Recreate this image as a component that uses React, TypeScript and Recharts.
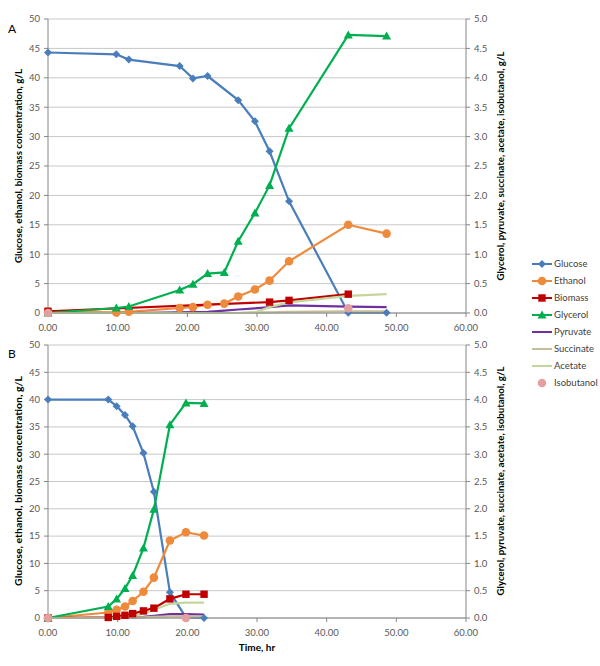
import React from 'react';
import { LineChart, Line, XAxis, YAxis, CartesianGrid } from 'recharts';

const FONT = 'Lato, "Open Sans", sans-serif';

// Panel A (time, hr)
const timeA = [0, 9.8, 11.6, 18.9, 20.8, 22.9, 25.3, 27.3, 29.7, 31.8, 34.6, 43.1, 48.6];
const glucoseA = [44.3, 44.0, 43.1, 42.0, 39.9, 40.3, null, 36.2, 32.6, 27.5, 19.0, 0.05, 0.05];
const ethanolA = [0.2, 0.1, 0.2, 0.85, 1.0, 1.4, 1.6, 2.8, 4.0, 5.5, 8.8, 15.0, 13.5];
const biomassA = [0.3, null, null, null, null, null, null, null, null, 1.85, 2.15, 3.2, null];
const glycerolA = [0.0, 0.085, 0.11, 0.39, 0.49, 0.67, 0.69, 1.22, 1.7, 2.17, 3.14, 4.73, 4.71];
const pyruvateA = [0, 0, 0, 0.01, 0.015, 0.02, 0.04, 0.06, 0.08, 0.1, 0.13, 0.11, 0.1];
const succinateA = [0, 0, 0, 0, 0, 0, 0, 0, 0.01, 0.01, 0.02, 0.03, 0.03];
const acetateA = [0, 0, 0, 0, 0, 0, 0, 0, 0.01, 0.1, 0.18, 0.29, 0.32];
const isobutanolA = [0, null, null, null, null, null, null, null, null, null, null, 0.08, null];

// Panel B
const timeB = [0, 8.65, 9.85, 11.05, 12.15, 13.7, 15.2, 17.5, 19.8, 22.4];
const glucoseB = [40, 40, 38.8, 37.2, 35.1, 30.2, 23.1, 4.7, 0.1, 0.0];
const ethanolB = [0, 1.0, 1.5, 2.1, 3.1, 4.8, 7.4, 14.2, 15.7, 15.1];
const biomassB = [0, 0.1, 0.3, 0.5, 0.8, 1.3, 1.8, 3.5, 4.35, 4.35];
const glycerolB = [0, 0.21, 0.35, 0.54, 0.78, 1.28, 1.99, 3.54, 3.94, 3.93];
const pyruvateB = [0, 0, 0, 0.01, 0.01, 0.02, 0.04, 0.07, 0.07, 0.06];
const succinateB = [0, 0, 0, 0, 0.01, 0.01, 0.02, 0.03, 0.03, 0.03];
const acetateB = [0, 0, 0, 0.01, 0.03, 0.08, 0.15, 0.26, 0.28, 0.28];
const isobutanolB = [0, null, null, null, null, null, null, null, 0.0, null];

const xTicks = [0, 10, 20, 30, 40, 50, 60];
const leftTicks = [0, 5, 10, 15, 20, 25, 30, 35, 40, 45, 50];
const rightTicks = [0, 0.5, 1, 1.5, 2, 2.5, 3, 3.5, 4, 4.5, 5];

type Shape = 'diamond' | 'circle' | 'square' | 'triangle' | 'none';

const series: { key: string; name: string; color: string; shape: Shape; axis: string; line: boolean }[] = [
  { key: 'glucose', name: 'Glucose', color: '#4a7ebb', shape: 'diamond', axis: 'left', line: true },
  { key: 'ethanol', name: 'Ethanol', color: '#ee8a3c', shape: 'circle', axis: 'left', line: true },
  { key: 'biomass', name: 'Biomass', color: '#c00000', shape: 'square', axis: 'left', line: true },
  { key: 'glycerol', name: 'Glycerol', color: '#00b050', shape: 'triangle', axis: 'right', line: true },
  { key: 'pyruvate', name: 'Pyruvate', color: '#7030a0', shape: 'none', axis: 'right', line: true },
  { key: 'succinate', name: 'Succinate', color: '#c4bd97', shape: 'none', axis: 'right', line: true },
  { key: 'acetate', name: 'Acetate', color: '#c3d69b', shape: 'none', axis: 'right', line: true },
  { key: 'isobutanol', name: 'Isobutanol', color: '#e3a0a0', shape: 'circle', axis: 'right', line: false },
];

function buildRows(time: number[], cols: Record<string, (number | null)[]>) {
  return time.map((t, i) => {
    const row: Record<string, number | null> = { t };
    Object.keys(cols).forEach((k) => (row[k] = cols[k][i]));
    return row;
  });
}

const dataA = buildRows(timeA, {
  glucose: glucoseA, ethanol: ethanolA, biomass: biomassA, glycerol: glycerolA,
  pyruvate: pyruvateA, succinate: succinateA, acetate: acetateA, isobutanol: isobutanolA,
});
const dataB = buildRows(timeB, {
  glucose: glucoseB, ethanol: ethanolB, biomass: biomassB, glycerol: glycerolB,
  pyruvate: pyruvateB, succinate: succinateB, acetate: acetateB, isobutanol: isobutanolB,
});

function Marker({ shape, color, cx, cy }: { shape: Shape; color: string; cx: number; cy: number }) {
  if (shape === 'diamond')
    return <polygon points={`${cx},${cy - 4} ${cx + 4},${cy} ${cx},${cy + 4} ${cx - 4},${cy}`} fill={color} />;
  if (shape === 'circle') return <circle cx={cx} cy={cy} r={4.3} fill={color} />;
  if (shape === 'square') return <rect x={cx - 3.7} y={cy - 3.7} width={7.4} height={7.4} fill={color} />;
  if (shape === 'triangle')
    return <polygon points={`${cx},${cy - 4.5} ${cx + 4.5},${cy + 3.5} ${cx - 4.5},${cy + 3.5}`} fill={color} />;
  return null;
}

const makeDot = (shape: Shape, color: string) => (p: any) => {
  const { cx, cy, index, value } = p;
  if (shape === 'none' || cx == null || cy == null || value == null || Number.isNaN(cy))
    return <g key={`d-${index}`} />;
  return (
    <g key={`d-${index}`}>
      <Marker shape={shape} color={color} cx={cx} cy={cy} />
    </g>
  );
};

const vTitle = (text: string, x: number, y: number, len: number) => () => (
  <text
    x={x}
    y={y}
    transform={`rotate(-90, ${x}, ${y})`}
    textAnchor="middle"
    dominantBaseline="central"
    textLength={len}
    lengthAdjust="spacingAndGlyphs"
    style={{ fontSize: 9.5, fontWeight: 700, fill: '#000', fontFamily: FONT }}
  >
    {text}
  </text>
);

const tickStyle = { fill: '#595959', fontSize: 9.5, fontFamily: FONT };
const axisGray = '#868686';

function Panel({ data, height, margin, midY, leftLen, rightLen, showTime }: any) {
  return (
    <LineChart width={600} height={height} data={data} margin={margin}>
      <CartesianGrid yAxisId="left" vertical={false} stroke="#c8c8c8" />
      <XAxis
        dataKey="t"
        type="number"
        domain={[0, 60]}
        ticks={xTicks}
        tickFormatter={(v: number) => v.toFixed(2)}
        height={20}
        tick={tickStyle}
        tickSize={4}
        tickMargin={7}
        stroke={axisGray}
        label={showTime ? () => (
          <text x={257} y={height - 15} textAnchor="middle" style={{ fontSize: 10, fontWeight: 700, fill: '#000', fontFamily: FONT }}>
            Time, hr
          </text>
        ) : undefined}
      />
      <YAxis
        yAxisId="left"
        orientation="left"
        width={30}
        domain={[0, 50]}
        ticks={leftTicks}
        tick={tickStyle}
        tickSize={4}
        tickMargin={4}
        stroke={axisGray}
        label={vTitle('Glucose, ethanol, biomass concentration, g/L', 18, midY, leftLen)}
      />
      <YAxis
        yAxisId="right"
        orientation="right"
        width={30}
        domain={[0, 5]}
        ticks={rightTicks}
        tickFormatter={(v: number) => v.toFixed(1)}
        tick={tickStyle}
        tickSize={4}
        tickMargin={4}
        stroke={axisGray}
        label={vTitle('Glycerol, pyruvate, succinate, acetate, isobutanol, g/L', 500, midY, rightLen)}
      />
      {series.map((s) => (
        <Line
          key={s.key}
          yAxisId={s.axis}
          dataKey={s.key}
          name={s.name}
          type="linear"
          stroke={s.line ? s.color : 'none'}
          strokeWidth={2.2}
          connectNulls
          dot={makeDot(s.shape, s.color)}
          activeDot={false}
          isAnimationActive={false}
        />
      ))}
    </LineChart>
  );
}

function LegendBox() {
  return (
    <div style={{ position: 'absolute', left: 532, top: 255, fontFamily: FONT, fontSize: 9.5, color: '#404040' }}>
      {series.map((s) => (
        <div key={s.key} style={{ height: 17, display: 'flex', alignItems: 'center' }}>
          <svg width={21} height={10} style={{ marginRight: 1 }}>
            {s.line && <line x1={0} y1={5} x2={20} y2={5} stroke={s.color} strokeWidth={2} />}
            <Marker shape={s.shape} color={s.color} cx={10} cy={5} />
          </svg>
          <span>{s.name}</span>
        </div>
      ))}
    </div>
  );
}

export default function App() {
  return (
    <div style={{ position: 'absolute', left: 0, top: 0, width: 600, height: 666, background: '#fff', overflow: 'hidden' }}>
      <div style={{ position: 'absolute', left: 0, top: 0 }}>
        <Panel data={dataA} height={335} margin={{ top: 19, right: 104, bottom: 2, left: 18 }} midY={166} leftLen={194} rightLen={229} showTime={false} />
      </div>
      <div style={{ position: 'absolute', left: 0, top: 330 }}>
        <Panel data={dataB} height={336} margin={{ top: 15, right: 104, bottom: 28, left: 18 }} midY={151} leftLen={210} rightLen={229} showTime />
      </div>
      <div style={{ position: 'absolute', left: 8, top: 21, fontFamily: FONT, fontSize: 12 }}>A</div>
      <div style={{ position: 'absolute', left: 8, top: 346, fontFamily: FONT, fontSize: 12 }}>B</div>
      <LegendBox />
    </div>
  );
}
